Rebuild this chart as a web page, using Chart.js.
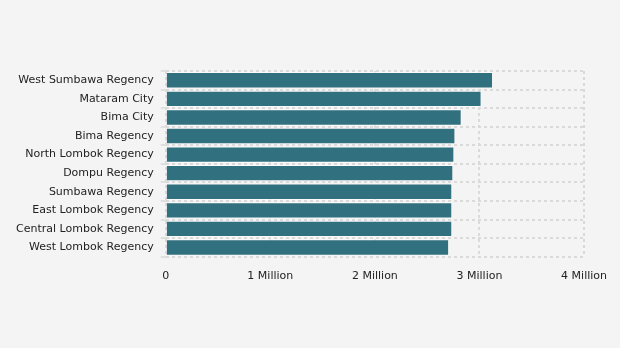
<!DOCTYPE html>
<html>
<head>
<meta charset="utf-8">
<script src="https://cdn.jsdelivr.net/npm/chart.js@4.4.1/dist/chart.umd.min.js"></script>
<style>
  html, body { margin: 0; padding: 0; background: #f4f4f4; }
  #wrap { width: 620px; height: 348px; }
</style>
</head>
<body>
<div id="wrap"><canvas id="barChart" width="620" height="348"></canvas></div>
<script>
// Regencies / cities, top to bottom
const regions = [
  "West Sumbawa Regency",
  "Mataram City",
  "Bima City",
  "Bima Regency",
  "North Lombok Regency",
  "Dompu Regency",
  "Sumbawa Regency",
  "East Lombok Regency",
  "Central Lombok Regency",
  "West Lombok Regency"
];

// values per region
const values = [3130000, 3020000, 2830000, 2770000, 2760000, 2750000, 2740000, 2740000, 2740000, 2710000];

// x axis ticks (in millions)
const xTicks = [0, 1, 2, 3, 4];
const xTickLabels = ["0", "1 Million", "2 Million", "3 Million", "4 Million"];

const gridColor = "#dadada";

const ctx = document.getElementById("barChart").getContext("2d");

new Chart(ctx, {
  type: "bar",
  data: {
    labels: regions,
    datasets: [
      {
        data: values,
        backgroundColor: "#31717f",
        borderColor: "rgba(255,255,255,0.6)",
        borderWidth: 1,
        barPercentage: 0.88,
        categoryPercentage: 1.0
      }
    ]
  },
  options: {
    indexAxis: "y",
    responsive: false,
    animation: false,
    layout: {
      padding: { top: 71, right: 15, bottom: 52, left: 9 }
    },
    plugins: {
      legend: { display: false },
      tooltip: { enabled: false }
    },
    scales: {
      x: {
        min: 0,
        max: 4000000,
        afterBuildTicks: (axis) => {
          axis.ticks = xTicks.map((v) => ({ value: v * 1000000 }));
        },
        ticks: {
          color: "#222",
          font: { family: "DejaVu Sans", size: 11 },
          padding: 13,
          maxRotation: 0,
          callback: (v) => xTickLabels[xTicks.indexOf(v / 1000000)]
        },
        grid: {
          color: gridColor,
          lineWidth: 2,
          drawTicks: false
        },
        border: { display: false, dash: [3, 3] }
      },
      y: {
        ticks: {
          color: "#222",
          font: { family: "DejaVu Sans", size: 11 },
          padding: 7
        },
        grid: {
          color: gridColor,
          lineWidth: 2,
          tickLength: 5,
          tickColor: "#e0e0e0"
        },
        border: { display: false, dash: [3, 3] }
      }
    }
  }
});
</script>
</body>
</html>
